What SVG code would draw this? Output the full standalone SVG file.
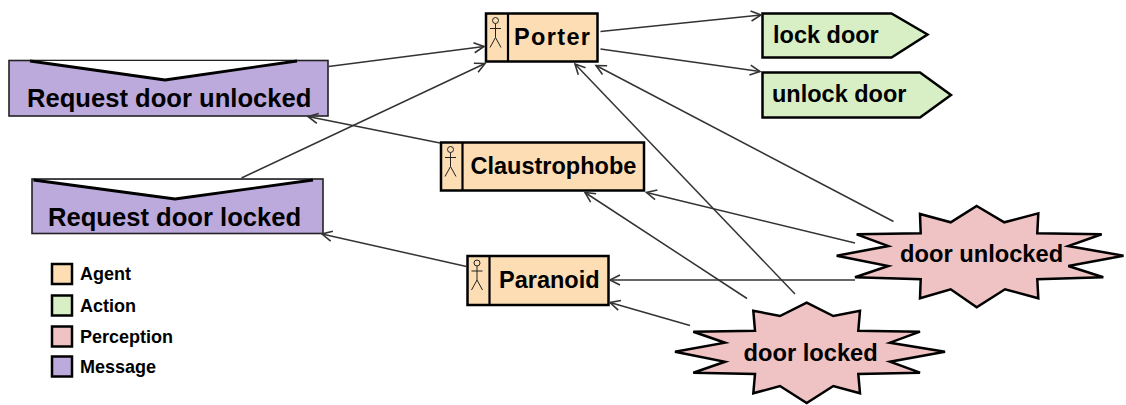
<svg xmlns="http://www.w3.org/2000/svg" xmlns:xlink="http://www.w3.org/1999/xlink" width="1126" height="405" viewBox="0 0 1126 405">
<style>
text{font-family:"Liberation Sans",Arial,sans-serif;font-weight:bold;fill:#000}
.agent{fill:#FCDDB4;stroke:#000;stroke-width:2.5}
.sep{stroke:#000;stroke-width:2.2}
.action{fill:#D8EFC6;stroke:#000;stroke-width:2.5;stroke-linejoin:miter}
.percept{fill:#EFC3C3;stroke:#000;stroke-width:2.5;stroke-linejoin:miter}
.msg{fill:#BDAADD;stroke:#222;stroke-width:1.6}
.vnotch{fill:#fff;stroke:#000;stroke-width:2.8;stroke-linejoin:round}
.conn{fill:none;stroke:#333;stroke-width:1.5}
.icon{fill:none;stroke:#222;stroke-width:1}
.lg{stroke:#000;stroke-width:2.5}
.t-agent{font-size:23.5px}
.t-action{font-size:23.5px}
.t-per{font-size:23.7px}
.t-msg{font-size:25.6px}
.t-lg{font-size:18px}
</style>
<defs>
<marker id="arr" markerUnits="userSpaceOnUse" markerWidth="14" markerHeight="14" refX="11" refY="6" orient="auto">
<path d="M1,1 L11,6 L1,11" fill="none" stroke="#333" stroke-width="1.6"/>
</marker>
<g id="actor" class="icon">
<circle cx="9.5" cy="7" r="3"/>
<line x1="9.5" y1="10" x2="9.5" y2="24"/>
<line x1="4" y1="15" x2="15" y2="15"/>
<line x1="9.5" y1="24" x2="4" y2="34"/>
<line x1="9.5" y1="24" x2="15" y2="34"/>
</g>
</defs>
<rect width="1126" height="405" fill="#fff"/>

<g id="msg-unlocked">
<rect class="msg" x="9" y="60.5" width="319" height="55.5"/>
<polyline class="vnotch" points="30,61 165,80 297,61"/>
<text class="t-msg" x="27" y="106.5">Request door unlocked</text>
</g>

<g id="msg-locked">
<rect class="msg" x="32" y="179" width="291" height="54.5"/>
<polyline class="vnotch" points="33.5,180 175,199 313,180"/>
<text class="t-msg" x="48" y="226">Request door locked</text>
</g>

<g id="porter">
<rect class="agent" x="486" y="13.5" width="111.5" height="48"/>
<line class="sep" x1="508" y1="13.5" x2="508" y2="61.5"/>
<use xlink:href="#actor" x="486" y="13.5"/>
<text class="t-agent" x="514" y="45" textLength="76">Porter</text>
</g>

<g id="claustrophobe">
<rect class="agent" x="441" y="142.5" width="203" height="48"/>
<line class="sep" x1="462.5" y1="142.5" x2="462.5" y2="190.5"/>
<use xlink:href="#actor" x="441" y="142.5"/>
<text class="t-agent" x="470.5" y="174">Claustrophobe</text>
</g>

<g id="paranoid">
<rect class="agent" x="467.5" y="256" width="141" height="49"/>
<line class="sep" x1="489.5" y1="256" x2="489.5" y2="305"/>
<use xlink:href="#actor" x="467.5" y="256"/>
<text class="t-agent" x="499" y="287.5">Paranoid</text>
</g>

<g id="lock-door">
<polygon class="action" points="762.5,13.5 891.5,13.5 927.5,34.5 891.5,57.5 762.5,57.5"/>
<text class="t-action" x="773" y="42.5">lock door</text>
</g>

<g id="unlock-door">
<polygon class="action" points="762.5,72.5 920,72.5 951,95 920,117.5 762.5,117.5"/>
<text class="t-action" x="772" y="102">unlock door</text>
</g>

<g id="door-unlocked">
<polygon class="percept" points="976.7,206 1004.3,222.3 1038.3,213.3 1037.3,233.3 1101.7,234.3 1068.3,246 1123.5,255.7 1068.3,266 1103.3,277.3 1037.3,279.3 1038.3,298.3 1005,289.3 976.7,307.3 950.7,289.3 920,298.3 920.7,279.3 855,277.3 888.3,266 836.7,255.7 888.3,246 856.7,234.3 920.7,233.3 920,214 950.7,222.3"/>
<text class="t-per" x="900" y="261.5">door unlocked</text>
</g>

<g id="door-locked">
<polygon class="percept" points="806.7,302.7 833.3,316 860,310.7 858.3,330.7 920,331.7 890,342.7 945,351.7 890,361.7 920,372.7 858.3,374 860,393.3 833.3,386 806.7,403 780,386 753.3,393.3 755,374 693.3,372.7 725,361.7 675,351.7 725,342.7 693.3,331.7 755,330.7 753.3,310.7 780,316"/>
<text class="t-per" x="743.5" y="361">door locked</text>
</g>

<g id="connectors">
<line class="conn" marker-end="url(#arr)" x1="328.5" y1="66.5" x2="484" y2="46.5"/>
<line class="conn" marker-end="url(#arr)" x1="241.5" y1="178" x2="485" y2="63.5"/>
<line class="conn" marker-end="url(#arr)" x1="600.5" y1="31.5" x2="761" y2="15"/>
<line class="conn" marker-end="url(#arr)" x1="600.5" y1="49" x2="760" y2="71.5"/>
<line class="conn" marker-end="url(#arr)" x1="440" y1="143" x2="308" y2="116.5"/>
<line class="conn" marker-end="url(#arr)" x1="466.5" y1="266.5" x2="322" y2="234"/>
<line class="conn" marker-end="url(#arr)" x1="893.5" y1="221.5" x2="596" y2="65.5"/>
<line class="conn" marker-end="url(#arr)" x1="855" y1="243" x2="646.5" y2="192.5"/>
<line class="conn" marker-end="url(#arr)" x1="855" y1="280" x2="610" y2="280"/>
<line class="conn" marker-end="url(#arr)" x1="795" y1="294" x2="575" y2="64"/>
<line class="conn" marker-end="url(#arr)" x1="747" y1="298.5" x2="585" y2="192.5"/>
<line class="conn" marker-end="url(#arr)" x1="690" y1="325.5" x2="610" y2="302.5"/>
</g>

<g id="legend">
<rect class="lg" x="52" y="264" width="20" height="20" fill="#FCDDB4"/>
<text class="t-lg" x="80" y="279.5">Agent</text>
<rect class="lg" x="52" y="295.5" width="20" height="20" fill="#D8EFC6"/>
<text class="t-lg" x="80" y="311.5">Action</text>
<rect class="lg" x="52" y="326.5" width="20" height="20" fill="#EFC3C3"/>
<text class="t-lg" x="80" y="342.5">Perception</text>
<rect class="lg" x="52" y="356.5" width="20" height="20" fill="#BDAADD"/>
<text class="t-lg" x="80" y="372.5">Message</text>
</g>
</svg>
